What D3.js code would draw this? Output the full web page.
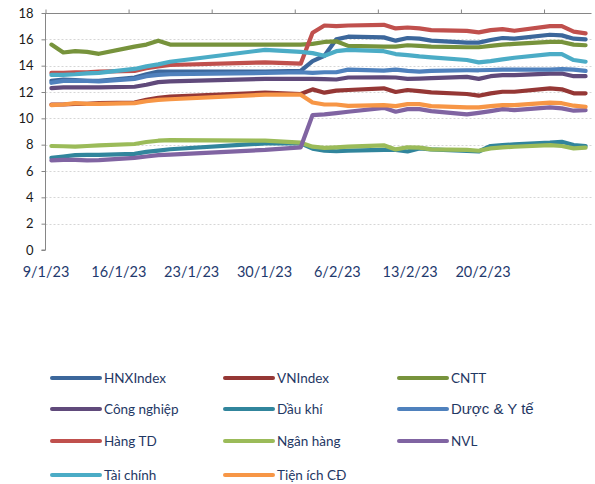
<!DOCTYPE html>
<html>
<head>
<meta charset="utf-8">
<script src="https://cdn.jsdelivr.net/npm/d3@7"></script>
<style>
  html, body { margin: 0; padding: 0; background: #fff; }
  svg { display: block; }
</style>
</head>
<body>
<svg id="chart" width="595" height="484"></svg>
<script>
// ---------- DATA ----------
const dates = ["2023-01-09","2023-01-10","2023-01-11","2023-01-12","2023-01-13",
  "2023-01-16","2023-01-17","2023-01-18","2023-01-19","2023-01-27",
  "2023-01-30","2023-01-31","2023-02-01","2023-02-02","2023-02-03",
  "2023-02-06","2023-02-07","2023-02-08","2023-02-09","2023-02-10",
  "2023-02-13","2023-02-14","2023-02-15","2023-02-16","2023-02-17",
  "2023-02-20","2023-02-21","2023-02-22","2023-02-23"];

const seriesNames = ["HNXIndex","VNIndex","CNTT","Công nghiệp","Dầu khí","Dược & Y tế",
  "Hàng TD","Ngân hàng","NVL","Tài chính","Tiện ích CĐ"];

const hnxIndex = [12.85,12.95,12.9,12.85,12.85,13.1,13.35,13.55,13.55,13.55,13.6,14.35,14.75,16.0,16.2,16.15,15.9,16.1,16.05,15.9,15.75,15.75,15.95,16.1,16.05,16.35,16.3,16.05,16.0];
const vnIndex = [11.05,11.05,11.1,11.1,11.15,11.2,11.4,11.55,11.65,11.95,11.85,12.2,11.95,12.1,12.15,12.28,12.0,12.15,12.07,11.97,11.85,11.72,11.9,12.02,12.02,12.28,12.2,11.9,11.9];
const cntt = [15.6,15.0,15.1,15.05,14.9,15.45,15.6,15.9,15.6,15.6,15.6,15.65,15.8,15.85,15.5,15.45,15.45,15.55,15.5,15.45,15.4,15.4,15.5,15.6,15.65,15.8,15.8,15.6,15.55];
const congNghiep = [12.3,12.35,12.35,12.35,12.35,12.4,12.55,12.75,12.8,13.0,13.0,13.0,12.98,12.95,13.1,13.12,13.1,13.0,13.02,13.05,13.15,13.0,13.2,13.28,13.28,13.4,13.4,13.2,13.2];
const dauKhi = [7.0,7.1,7.2,7.22,7.22,7.3,7.45,7.55,7.65,8.1,8.1,7.7,7.55,7.5,7.55,7.6,7.6,7.48,7.72,7.64,7.52,7.48,7.9,7.97,8.02,8.15,8.22,7.97,7.9];
const duocYTe = [12.7,12.85,12.85,12.85,12.8,13.0,13.2,13.3,13.35,13.45,13.5,13.45,13.5,13.5,13.7,13.62,13.7,13.6,13.55,13.6,13.65,13.65,13.67,13.7,13.7,13.7,13.74,13.7,13.6];
const hangTD = [13.45,13.45,13.5,13.5,13.55,13.6,13.8,13.95,14.05,14.25,14.15,16.5,17.05,17.0,17.05,17.1,16.83,16.9,16.83,16.7,16.64,16.53,16.7,16.77,16.65,17.0,17.0,16.58,16.45];
const nganHang = [7.9,7.88,7.85,7.9,7.95,8.05,8.2,8.3,8.35,8.3,8.15,7.85,7.75,7.8,7.85,7.95,7.64,7.8,7.78,7.64,7.6,7.54,7.72,7.8,7.84,7.97,7.9,7.72,7.77];
const nvl = [6.8,6.85,6.85,6.8,6.82,7.0,7.1,7.2,7.25,7.6,7.8,10.25,10.3,10.4,10.5,10.8,10.5,10.7,10.7,10.55,10.3,10.42,10.55,10.7,10.63,10.83,10.76,10.58,10.63];
const taiChinh = [13.3,13.3,13.35,13.42,13.45,13.75,13.95,14.1,14.3,15.2,15.05,14.95,14.75,15.1,15.2,15.1,14.88,14.8,14.7,14.63,14.43,14.25,14.35,14.48,14.6,14.88,14.88,14.43,14.3];
const tienIch = [11.0,11.05,11.15,11.1,11.1,11.15,11.3,11.4,11.45,11.8,11.8,11.2,11.05,11.05,10.95,11.0,10.93,11.08,11.08,10.93,10.83,10.83,10.93,11.0,11.0,11.19,11.15,10.96,10.88];

const seriesValues = [hnxIndex, vnIndex, cntt, congNghiep, dauKhi, duocYTe, hangTD, nganHang, nvl, taiChinh, tienIch];

const yTicks = [0,2,4,6,8,10,12,14,16,18];
const xTickLabels = ["9/1/23","16/1/23","23/1/23","30/1/23","6/2/23","13/2/23","20/2/23"];

// ---------- STYLE ----------
const colors = ["#3C679B","#953735","#77933C","#604A7B","#31859C","#4F81BD",
  "#C0504D","#9BBB59","#8064A2","#4BACC6","#F79646"];

const svg = d3.select("#chart");
const parse = d3.utcParse("%Y-%m-%d");
const DAY = 86400000;
const d0 = parse(dates[0]), d1 = parse(dates[dates.length-1]);

const x = d3.scaleUtc()
  .domain([new Date(+d0 - DAY/2), new Date(+d1 + DAY/2)])
  .range([45.5, 591.5]);
const y = d3.scaleLinear().domain([0, 18]).range([250, 13]);

// gridlines
svg.append("g").selectAll("line")
  .data(yTicks.filter(v => v > 0 && v < 18))
  .join("line")
  .attr("x1", 45.5).attr("x2", 591.5)
  .attr("y1", d => Math.round(y(d)) + 0.5).attr("y2", d => Math.round(y(d)) + 0.5)
  .attr("stroke", "#D6D6D6").attr("stroke-width", 1).attr("stroke-dasharray", "2,2");

// y axis
const yAxis = d3.axisLeft(y).tickValues(yTicks).tickSize(4).tickPadding(8).tickFormat(d3.format("d"));
const gy = svg.append("g").attr("transform", "translate(45.5,0)").call(yAxis);
gy.select(".domain").attr("stroke", "#868686").attr("d", `M-4,${y(0)}H0V${y(18)}`);
gy.selectAll(".tick line").attr("stroke", "#868686");
gy.selectAll(".tick text").attr("font-family", "Lato, 'Open Sans', sans-serif")
  .attr("font-size", 13).attr("fill", "#1a1a1a");

// top x axis line with tick marks every 7 days (slot boundaries)
const xTop = d3.axisTop(x).tickValues(d3.range(0, 7).map(k => new Date(+d0 - DAY/2 + k*7*DAY)))
  .tickSize(4).tickFormat("");
const gx = svg.append("g").attr("transform", `translate(0,${Math.round(y(18)) + 0.5})`).call(xTop);
gx.select(".domain").attr("stroke", "#868686").attr("d", `M45.5,0H591.5`);
gx.selectAll(".tick line").attr("stroke", "#868686");

// bottom date labels (evenly spaced as in the source)
const xLab = d3.scalePoint().domain(xTickLabels).range([46, 483]);
svg.append("g").selectAll("text")
  .data(xTickLabels)
  .join("text")
  .attr("x", d => xLab(d))
  .attr("y", 277)
  .attr("text-anchor", "middle")
  .attr("font-family", "Lato, 'Open Sans', sans-serif")
  .attr("font-size", 14.5)
  .attr("fill", "#1F3A6E")
  .text(d => d);

// lines
const line = d3.line()
  .x((d, i) => x(parse(dates[i])))
  .y(d => y(d));

svg.append("g").selectAll("path")
  .data(seriesValues)
  .join("path")
  .attr("d", d => line(d))
  .attr("fill", "none")
  .attr("stroke", (d, i) => colors[i])
  .attr("stroke-width", 4.2)
  .attr("stroke-linejoin", "round")
  .attr("stroke-linecap", "round");

// legend
const colX = [52, 225, 399];
const rowY = [378, 409, 441, 475];
const leg = svg.append("g").selectAll("g")
  .data(seriesNames)
  .join("g")
  .attr("transform", (d, i) => `translate(${colX[i % 3]},${rowY[Math.floor(i / 3)]})`);
leg.append("line")
  .attr("x1", 0).attr("x2", 48).attr("y1", 0).attr("y2", 0)
  .attr("stroke", (d, i) => colors[i]).attr("stroke-width", 4).attr("stroke-linecap", "round");
leg.append("text")
  .attr("x", 52).attr("y", 0).attr("dy", "0.36em")
  .attr("font-family", d => d === "Dược & Y tế" ? "'Liberation Sans', Arial, sans-serif" : "Lato, 'Open Sans', sans-serif")
  .attr("font-size", d => d === "Dược & Y tế" ? 15 : 13.5)
  .attr("fill", "#1F3864")
  .text(d => d);
</script>
</body>
</html>
